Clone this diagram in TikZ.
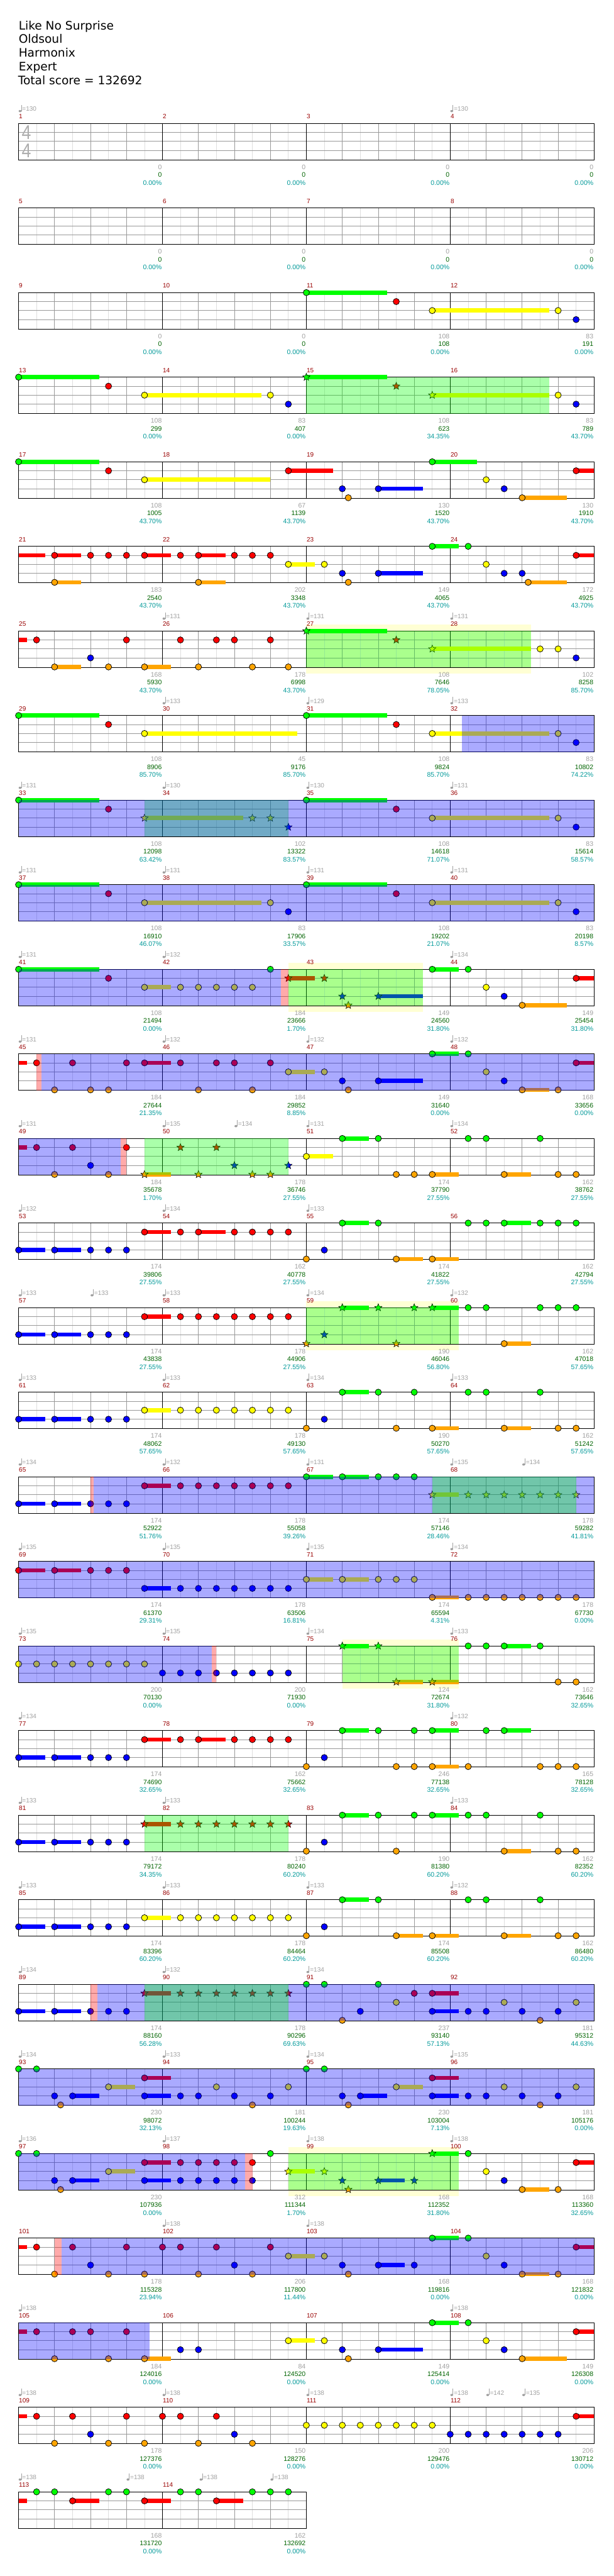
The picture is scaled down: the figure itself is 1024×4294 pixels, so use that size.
\documentclass[tikz,border=0pt]{standalone}
\usepackage{fontspec}
\setmainfont{Liberation Sans}
\newfontfamily\hdfont{DejaVu Sans}
\usetikzlibrary{shapes.geometric}
\definecolor{mred}{RGB}{153,0,0}
\definecolor{tgray}{RGB}{160,160,160}
\definecolor{tgreen}{RGB}{0,100,0}
\definecolor{tteal}{RGB}{0,153,153}
\definecolor{gline}{RGB}{153,153,153}
\definecolor{lline}{RGB}{222,222,222}
\definecolor{L0}{RGB}{0,255,0}
\definecolor{L1}{RGB}{255,0,0}
\definecolor{L2}{RGB}{255,255,0}
\definecolor{L3}{RGB}{0,0,255}
\definecolor{L4}{RGB}{255,165,0}
\newcounter{nd}
\tikzset{
 notec/.style={draw=black,line width=0.8pt},
 starn/.style={star,star points=5,star point ratio=2.3,minimum size=13pt,inner sep=0pt,draw=black,line width=0.6pt},
 mlab/.style={font=\fontsize{10.5}{10.5}\selectfont,text=mred,anchor=base west,inner sep=0pt},
 numg/.style={font=\fontsize{11}{11}\selectfont,text=tgray,anchor=base east,inner sep=0pt},
 numn/.style={font=\fontsize{11}{11}\selectfont,text=tgreen,anchor=base east,inner sep=0pt},
 nump/.style={font=\fontsize{11}{11}\selectfont,text=tteal,anchor=base east,inner sep=0pt},
 tmpl/.style={font=\fontsize{10.5}{10.5}\selectfont,text=tgray,anchor=base west,inner sep=0pt},
 hdr/.style={font=\hdfont\fontsize{19.5}{19.5}\selectfont,anchor=base west,inner sep=0pt},
}
\newcommand\Rt{0}
\newcommand\NN{\stepcounter{nd}n\arabic{nd}}
\newcommand\SetRow[1]{\pgfmathsetmacro\Rt{205.7+(#1-1)*141}}
\newcommand\Nn[2]{\pgfmathsetmacro\xx{31+60*(#2)}\pgfmathsetmacro\yy{\Rt+15*(#1)}\filldraw[notec,fill=L#1] (\xx,\yy) circle[radius=5.2pt];}
\newcommand\SusBar[3]{\pgfmathsetmacro\xa{31+60*(#2)}\pgfmathsetmacro\xb{31+60*(#3)}\pgfmathsetmacro\yy{\Rt+15*(#1)}\fill[L#1] (\xa,\yy-3.5) rectangle (\xb,\yy+3.5);}
\newcommand\StarN[2]{\pgfmathsetmacro\xx{31+60*(#2)}\pgfmathsetmacro\yy{\Rt+15*(#1)}\stepcounter{nd}\node[starn,fill=L#1] (s\arabic{nd}) at (\xx,\yy) {};}
\newcommand\Sn[3]{\SusBar{#1}{#2}{#3}\Nn{#1}{#2}}
\newcommand\Ss[3]{\SusBar{#1}{#2}{#3}\StarN{#1}{#2}}
\newcommand\Ov[3]{\pgfmathsetmacro\xa{31+60*(#2)}\pgfmathsetmacro\xb{31+60*(#3)}\fill[#1,opacity=0.3333] (\xa,\Rt) rectangle (\xb,\Rt+61);}
\newcommand\OvG[2]{\Ov{L0}{#1}{#2}}
\newcommand\OvB[2]{\Ov{L3}{#1}{#2}}
\newcommand\OvP[2]{\Ov{L1}{#1}{#2}}
\newcommand\OvY[2]{\pgfmathsetmacro\xa{31+60*(#1)}\pgfmathsetmacro\xb{31+60*(#2)}\fill[L2,opacity=0.17] (\xa,\Rt-10.3) rectangle (\xb,\Rt+71.3);}
\newcommand\Row[2]{%
 \pgfmathsetmacro\W{240*#2}%
 \pgfmathtruncatemacro\Nl{#2-1}%
 \foreach \k in {0,...,\Nl}{\foreach \h in {30,90,150,210}{\draw[lline,line width=0.8pt] (31+240*\k+\h,\Rt) -- ++(0,61);}}%
 \foreach \l in {15,30,45}{\draw[gline,line width=1pt] (31,\Rt+\l) -- (31+\W,\Rt+\l);}%
 \foreach \k in {0,...,\Nl}{\foreach \h in {60,120,180}{\draw[gline,line width=0.8pt] (31+240*\k+\h,\Rt) -- ++(0,61);}}%
 \foreach \k in {1,...,\Nl}{\draw[black,line width=0.8pt] (31+240*\k,\Rt) -- ++(0,61);}%
 \draw[black,line width=1.1pt] (31,\Rt) rectangle (31+\W,\Rt+61);%
 \foreach \k in {0,...,\Nl}{\pgfmathtruncatemacro\mn{4*(#1-1)+\k+1}\stepcounter{nd}\node[mlab] (m\arabic{nd}) at (31.5+240*\k,\Rt-7.7) {\mn};}%
}
\newcommand\Nums[4]{\pgfmathsetmacro\xx{31+240*#1-1}%
 \stepcounter{nd}\node[numg] (g\arabic{nd}) at (\xx,\Rt+76.4) {#2};%
 \stepcounter{nd}\node[numn] (c\arabic{nd}) at (\xx,\Rt+89.7) {#3};%
 \stepcounter{nd}\node[nump] (p\arabic{nd}) at (\xx,\Rt+102.7) {#4\%};}
\newcommand\Tmp[2]{\pgfmathsetmacro\xx{31+60*(#1)}%
 \fill[tgray] (\xx+2.5,\Rt-20.5) ellipse[x radius=2.4pt,y radius=1.9pt];%
 \draw[tgray,line width=0.7pt] (\xx+4.6,\Rt-20.5) -- (\xx+4.6,\Rt-31);%
 \stepcounter{nd}\node[tmpl] (t\arabic{nd}) at (\xx+6,\Rt-20.3) {=#2};}
\begin{document}
\begin{tikzpicture}[x=1pt,y=-1pt]
\path[use as bounding box] (0,0) rectangle (1024,4294);
\fill[white] (0,0) rectangle (1024,4294);
\node[hdr] (h1) at (31,49.3) {Like No Surprise};
\node[hdr] (h2) at (31,72.3) {Oldsoul};
\node[hdr] (h3) at (31,95.3) {Harmonix};
\node[hdr] (h4) at (31,118.3) {Expert};
\node[hdr] (h5) at (30,141.3) {Total score = 132692};
% ---- row 1
\SetRow{1}\Row{1}{4}
\node[font=\fontsize{33}{33}\selectfont,text=tgray!85,inner sep=0pt,xscale=0.85] (ts1) at (44,221.3) {4};
\node[font=\fontsize{33}{33}\selectfont,text=tgray!85,inner sep=0pt,xscale=0.85] (ts2) at (44,250.8) {4};
\Tmp{0}{130}\Tmp{12}{130}
\Nums{1}{0}{0}{0.00}\Nums{2}{0}{0}{0.00}\Nums{3}{0}{0}{0.00}\Nums{4}{0}{0}{0.00}
% ---- row 2
\SetRow{2}\Row{2}{4}
\Nums{1}{0}{0}{0.00}\Nums{2}{0}{0}{0.00}\Nums{3}{0}{0}{0.00}\Nums{4}{0}{0}{0.00}
% ---- row 3
\SetRow{3}\Row{3}{4}
\Sn{0}{8}{10.24}\Nn{1}{10.5}\Sn{2}{11.5}{14.75}\Nn{2}{15}\Nn{3}{15.5}
\Nums{1}{0}{0}{0.00}\Nums{2}{0}{0}{0.00}\Nums{3}{108}{108}{0.00}\Nums{4}{83}{191}{0.00}
% ---- row 4
\SetRow{4}\Row{4}{4}
\Sn{0}{0}{2.24}\Nn{1}{2.5}\Sn{2}{3.5}{6.75}\Nn{2}{7}\Nn{3}{7.5}
\Ss{0}{8}{10.24}\StarN{1}{10.5}\Ss{2}{11.5}{14.75}\Nn{2}{15}\Nn{3}{15.5}
\OvG{8}{14.75}
\Nums{1}{108}{299}{0.00}\Nums{2}{83}{407}{0.00}\Nums{3}{108}{623}{34.35}\Nums{4}{83}{789}{43.70}
% ---- row 5
\SetRow{5}\Row{5}{4}
\Sn{0}{0}{2.24}\Nn{1}{2.5}\Sn{2}{3.5}{7}\Sn{1}{7.5}{8.74}\Nn{3}{9}\Nn{4}{9.167}\Sn{3}{10}{11.24}
\Sn{0}{11.5}{12.75}\Nn{2}{13}\Nn{3}{13.5}\Sn{4}{14}{15.25}\Sn{1}{15.5}{16}
\Nums{1}{108}{1005}{43.70}\Nums{2}{67}{1139}{43.70}\Nums{3}{130}{1520}{43.70}\Nums{4}{130}{1910}{43.70}
% ---- row 6
\SetRow{6}\Row{6}{4}
\SusBar{1}{0}{0.74}\Sn{1}{1}{1.74}\Sn{4}{1}{1.74}\Nn{1}{2}\Nn{1}{2.5}\Nn{1}{3}\Sn{1}{3.5}{4.24}\Nn{1}{4.5}
\Sn{1}{5}{5.75}\Sn{4}{5}{5.75}\Nn{1}{6}\Nn{1}{6.5}\Nn{1}{7}\Sn{2}{7.5}{8.24}\Nn{2}{8.5}\Nn{3}{9}\Nn{4}{9.167}
\Sn{3}{10}{11.24}\Sn{0}{11.5}{12.24}\Nn{0}{12.5}\Nn{2}{13}\Nn{3}{13.5}\Nn{3}{14}\Sn{4}{14.167}{15.25}\Sn{1}{15.5}{16}
\Nums{1}{183}{2540}{43.70}\Nums{2}{202}{3348}{43.70}\Nums{3}{149}{4065}{43.70}\Nums{4}{172}{4925}{43.70}
% ---- row 7
\SetRow{7}\OvY{8}{14.25}\Row{7}{4}
\Tmp{4}{131}\Tmp{8}{131}\Tmp{12}{131}
\SusBar{1}{0}{0.24}\Nn{1}{0.5}\Sn{4}{1}{1.74}\Nn{3}{2}\Nn{4}{2.5}\Nn{1}{3}\Sn{4}{3.5}{4.24}\Nn{1}{4.5}\Nn{4}{5}
\Nn{1}{5.5}\Nn{1}{6}\Nn{4}{6.5}\Nn{1}{7}\Nn{4}{7.5}
\Ss{0}{8}{10.24}\StarN{1}{10.5}\Ss{2}{11.5}{14.25}\Nn{2}{14.5}\Nn{2}{15}\Nn{3}{15.5}
\OvG{8}{14.25}
\Nums{1}{168}{5930}{43.70}\Nums{2}{178}{6998}{43.70}\Nums{3}{108}{7646}{78.05}\Nums{4}{102}{8258}{85.70}
% ---- row 8
\SetRow{8}\Row{8}{4}
\Tmp{4}{133}\Tmp{8}{129}\Tmp{12}{133}
\Sn{0}{0}{2.24}\Nn{1}{2.5}\Sn{2}{3.5}{7.74}\Sn{0}{8}{10.24}\Nn{1}{10.5}\Sn{2}{11.5}{14.75}\Nn{2}{15}\Nn{3}{15.5}
\OvB{12.32}{16}
\Nums{1}{108}{8906}{85.70}\Nums{2}{45}{9176}{85.70}\Nums{3}{108}{9824}{85.70}\Nums{4}{83}{10802}{74.22}
% ---- row 9
\SetRow{9}\Row{9}{4}
\Tmp{0}{131}\Tmp{4}{130}\Tmp{8}{130}\Tmp{12}{131}
\Sn{0}{0}{2.24}\Nn{1}{2.5}\Ss{2}{3.5}{6.25}\StarN{2}{6.5}\StarN{2}{7}\StarN{3}{7.5}
\Sn{0}{8}{10.24}\Nn{1}{10.5}\Sn{2}{11.5}{14.75}\Nn{2}{15}\Nn{3}{15.5}
\OvG{3.5}{7.5}\OvB{0}{16}
\Nums{1}{108}{12098}{63.42}\Nums{2}{102}{13322}{83.57}\Nums{3}{108}{14618}{71.07}\Nums{4}{83}{15614}{58.57}
% ---- row 10
\SetRow{10}\Row{10}{4}
\Tmp{0}{131}\Tmp{4}{131}\Tmp{8}{131}\Tmp{12}{131}
\Sn{0}{0}{2.24}\Nn{1}{2.5}\Sn{2}{3.5}{6.75}\Nn{2}{7}\Nn{3}{7.5}
\Sn{0}{8}{10.24}\Nn{1}{10.5}\Sn{2}{11.5}{14.75}\Nn{2}{15}\Nn{3}{15.5}
\OvB{0}{16}
\Nums{1}{108}{16910}{46.07}\Nums{2}{83}{17906}{33.57}\Nums{3}{108}{19202}{21.07}\Nums{4}{83}{20198}{8.57}
% ---- row 11
\SetRow{11}\OvY{7.5}{11.24}\Row{11}{4}
\Tmp{0}{131}\Tmp{4}{132}\Tmp{12}{134}
\Sn{0}{0}{2.24}\Nn{1}{2.5}\Sn{2}{3.5}{4.24}\foreach \b in {4.5,5,5.5,6,6.5}{\Nn{2}{\b}}\Nn{0}{7}
\Ss{1}{7.5}{8.24}\StarN{1}{8.5}\StarN{3}{9}\StarN{4}{9.167}\Ss{3}{10}{11.24}
\Sn{0}{11.5}{12.24}\Nn{0}{12.5}\Nn{2}{13}\Nn{3}{13.5}\Sn{4}{14}{15.25}\Sn{1}{15.5}{16}
\OvB{0}{7.3}\OvP{7.3}{7.5}\OvG{7.5}{11.24}
\Nums{1}{108}{21494}{0.00}\Nums{2}{184}{23666}{1.70}\Nums{3}{149}{24560}{31.80}\Nums{4}{149}{25454}{31.80}
% ---- row 12
\SetRow{12}\Row{12}{4}
\Tmp{0}{131}\Tmp{4}{132}\Tmp{8}{132}\Tmp{12}{132}
\SusBar{1}{0}{0.24}\Nn{1}{0.5}\Nn{4}{1}\Nn{1}{1.5}\Nn{4}{2}\Nn{4}{2.5}\Nn{1}{3}\Sn{1}{3.5}{4.24}\Nn{1}{4.5}
\Nn{4}{5}\Nn{1}{5.5}\Nn{1}{6}\Nn{4}{6.5}\Nn{1}{7}\Sn{2}{7.5}{8.24}\Nn{2}{8.5}\Nn{3}{9}\Nn{4}{9.167}
\Sn{3}{10}{11.24}\Sn{0}{11.5}{12.24}\Nn{0}{12.5}\Nn{2}{13}\Nn{3}{13.5}\Sn{4}{14}{14.75}\Nn{4}{15}\Sn{1}{15.5}{16}
\OvP{0.49}{0.64}\OvB{0.64}{16}
\Nums{1}{184}{27644}{21.35}\Nums{2}{184}{29852}{8.85}\Nums{3}{149}{31640}{0.00}\Nums{4}{168}{33656}{0.00}
% ---- row 13
\SetRow{13}\Row{13}{4}
\Tmp{0}{131}\Tmp{4}{135}\Tmp{6}{134}\Tmp{8}{131}\Tmp{12}{134}
\SusBar{1}{0}{0.24}\Nn{1}{0.5}\Nn{4}{1}\Nn{1}{1.5}\Nn{3}{2}\Nn{4}{2.5}\Nn{1}{3}
\Ss{4}{3.5}{4.24}\StarN{1}{4.5}\StarN{4}{5}\StarN{1}{5.5}\StarN{3}{6}\StarN{4}{6.5}\StarN{4}{7}\StarN{3}{7.5}
\Sn{2}{8}{8.74}\Sn{0}{9}{9.74}\Nn{0}{10}\Nn{4}{10.5}\Nn{4}{11}\Sn{4}{11.5}{12.24}\Nn{0}{12.5}\Nn{0}{13}
\Sn{4}{13.5}{14.25}\Nn{0}{14.5}\Nn{4}{15}\Nn{4}{15.5}
\OvB{0}{2.83}\OvP{2.83}{3}\OvG{3.5}{7.5}
\Nums{1}{184}{35678}{1.70}\Nums{2}{178}{36746}{27.55}\Nums{3}{174}{37790}{27.55}\Nums{4}{162}{38762}{27.55}
% ---- row 14
\SetRow{14}\Row{14}{4}
\Tmp{0}{132}\Tmp{4}{134}\Tmp{8}{133}
\Sn{3}{0}{0.74}\Sn{3}{1}{1.74}\Nn{3}{2}\Nn{3}{2.5}\Nn{3}{3}
\Sn{1}{3.5}{4.24}\Nn{1}{4.5}\Sn{1}{5}{5.75}\Nn{1}{6}\Nn{1}{6.5}\Nn{1}{7}\Nn{1}{7.5}
\Nn{4}{8}\Nn{3}{8.5}\Sn{0}{9}{9.74}\Nn{0}{10}\Sn{4}{10.5}{11.24}\Sn{4}{11.5}{12.24}\Nn{0}{12.5}\Nn{0}{13}
\Sn{0}{13.5}{14.25}\Nn{0}{14.5}\Nn{0}{15}\Nn{0}{15.5}
\Nums{1}{174}{39806}{27.55}\Nums{2}{162}{40778}{27.55}\Nums{3}{174}{41822}{27.55}\Nums{4}{162}{42794}{27.55}
% ---- row 15
\SetRow{15}\OvY{8}{12.24}\Row{15}{4}
\Tmp{0}{133}\Tmp{2}{133}\Tmp{4}{133}\Tmp{8}{134}\Tmp{12}{132}
\Sn{3}{0}{0.74}\Sn{3}{1}{1.74}\Nn{3}{2}\Nn{3}{2.5}\Nn{3}{3}
\Sn{1}{3.5}{4.24}\foreach \b in {4.5,5,5.5,6,6.5,7,7.5}{\Nn{1}{\b}}
\StarN{4}{8}\StarN{3}{8.5}\Ss{0}{9}{9.74}\StarN{0}{10}\StarN{4}{10.5}\StarN{0}{11}\Ss{0}{11.5}{12.24}
\Nn{0}{12.5}\Nn{0}{13}\Sn{4}{13.5}{14.25}\Nn{0}{14.5}\Nn{0}{15}\Nn{0}{15.5}
\OvG{8}{12.24}
\Nums{1}{174}{43838}{27.55}\Nums{2}{178}{44906}{27.55}\Nums{3}{190}{46046}{56.80}\Nums{4}{162}{47018}{57.65}
% ---- row 16
\SetRow{16}\Row{16}{4}
\Tmp{0}{133}\Tmp{4}{133}\Tmp{8}{134}\Tmp{12}{133}
\Sn{3}{0}{0.74}\Sn{3}{1}{1.74}\Nn{3}{2}\Nn{3}{2.5}\Nn{3}{3}
\Sn{2}{3.5}{4.24}\foreach \b in {4.5,5,5.5,6,6.5,7,7.5}{\Nn{2}{\b}}
\Nn{4}{8}\Nn{3}{8.5}\Sn{0}{9}{9.74}\Nn{0}{10}\Nn{4}{10.5}\Nn{0}{11}\Sn{4}{11.5}{12.24}\Nn{0}{12.5}\Nn{0}{13}
\Sn{4}{13.5}{14.25}\Nn{0}{14.5}\Nn{4}{15}\Nn{4}{15.5}
\Nums{1}{174}{48062}{57.65}\Nums{2}{178}{49130}{57.65}\Nums{3}{190}{50270}{57.65}\Nums{4}{162}{51242}{57.65}
% ---- row 17
\SetRow{17}\Row{17}{4}
\Tmp{0}{134}\Tmp{4}{132}\Tmp{8}{131}\Tmp{12}{135}\Tmp{14}{134}
\Sn{3}{0}{0.74}\Sn{3}{1}{1.74}\Nn{3}{2}\Nn{3}{2.5}\Nn{3}{3}
\Sn{1}{3.5}{4.24}\foreach \b in {4.5,5,5.5,6,6.5,7,7.5}{\Nn{1}{\b}}
\Sn{0}{8}{8.74}\Sn{0}{9}{9.74}\Nn{0}{10}\Nn{0}{10.5}\Nn{0}{11}
\Ss{2}{11.5}{12.24}\foreach \b in {12.5,13,13.5,14,14.5,15,15.5}{\StarN{2}{\b}}
\OvP{2}{2.09}\OvB{2.09}{16}\OvG{11.5}{15.5}
\Nums{1}{174}{52922}{51.76}\Nums{2}{178}{55058}{39.26}\Nums{3}{174}{57146}{28.46}\Nums{4}{178}{59282}{41.81}
% ---- row 18
\SetRow{18}\Row{18}{4}
\Tmp{0}{135}\Tmp{4}{135}\Tmp{8}{135}\Tmp{12}{134}
\Sn{1}{0}{0.74}\Sn{1}{1}{1.74}\Nn{1}{2}\Nn{1}{2.5}\Nn{1}{3}
\Sn{3}{3.5}{4.24}\foreach \b in {4.5,5,5.5,6,6.5,7,7.5}{\Nn{3}{\b}}
\Sn{2}{8}{8.74}\Sn{2}{9}{9.74}\Nn{2}{10}\Nn{2}{10.5}\Nn{2}{11}
\Sn{4}{11.5}{12.24}\foreach \b in {12.5,13,13.5,14,14.5,15,15.5}{\Nn{4}{\b}}
\OvB{0}{16}
\Nums{1}{174}{61370}{29.31}\Nums{2}{178}{63506}{16.81}\Nums{3}{174}{65594}{4.31}\Nums{4}{178}{67730}{0.00}
% ---- row 19
\SetRow{19}\OvY{9}{12.24}\Row{19}{4}
\Tmp{0}{135}\Tmp{4}{135}\Tmp{8}{134}\Tmp{12}{133}
\foreach \b in {0,0.5,1,1.5,2,2.5,3,3.5}{\Nn{2}{\b}}
\foreach \b in {4,4.5,5,5.5,6,6.5,7,7.5}{\Nn{3}{\b}}
\Ss{0}{9}{9.74}\StarN{0}{10}\Ss{4}{10.5}{11.24}\Ss{4}{11.5}{12.24}
\Nn{0}{12.5}\Nn{0}{13}\Sn{0}{13.5}{14.25}\Nn{0}{14.5}\Nn{4}{15}\Nn{4}{15.5}
\OvB{0}{5.37}\OvP{5.37}{5.5}\OvG{9}{12.24}
\Nums{1}{200}{70130}{0.00}\Nums{2}{200}{71930}{0.00}\Nums{3}{124}{72674}{31.80}\Nums{4}{162}{73646}{32.65}
% ---- row 20
\SetRow{20}\Row{20}{4}
\Tmp{0}{134}\Tmp{12}{132}
\Sn{3}{0}{0.74}\Sn{3}{1}{1.74}\Nn{3}{2}\Nn{3}{2.5}\Nn{3}{3}
\Sn{1}{3.5}{4.24}\Nn{1}{4.5}\Sn{1}{5}{5.75}\Nn{1}{6}\Nn{1}{6.5}\Nn{1}{7}\Nn{1}{7.5}
\Nn{4}{8}\Nn{3}{8.5}\Sn{0}{9}{9.74}\Nn{0}{10}\Nn{4}{10.5}\Nn{0}{11}\Nn{4}{11}
\Sn{0}{11.5}{12.24}\Sn{4}{11.5}{12.24}\Nn{4}{12.5}\Nn{0}{13}\Sn{0}{13.5}{14.25}\Nn{4}{14.5}\Nn{4}{15}\Nn{4}{15.5}
\Nums{1}{174}{74690}{32.65}\Nums{2}{162}{75662}{32.65}\Nums{3}{246}{77138}{32.65}\Nums{4}{165}{78128}{32.65}
% ---- row 21
\SetRow{21}\Row{21}{4}
\Tmp{0}{133}\Tmp{4}{133}\Tmp{12}{133}
\Sn{3}{0}{0.74}\Sn{3}{1}{1.74}\Nn{3}{2}\Nn{3}{2.5}\Nn{3}{3}
\Ss{1}{3.5}{4.24}\foreach \b in {4.5,5,5.5,6,6.5,7,7.5}{\StarN{1}{\b}}
\Nn{4}{8}\Nn{3}{8.5}\Sn{0}{9}{9.74}\Nn{0}{10}\Nn{4}{10.5}\Nn{0}{11}\Sn{0}{11.5}{12.24}\Nn{0}{12.5}\Nn{0}{13}
\Sn{4}{13.5}{14.25}\Nn{0}{14.5}\Nn{4}{15}\Nn{4}{15.5}
\OvG{3.5}{7.5}
\Nums{1}{174}{79172}{34.35}\Nums{2}{178}{80240}{60.20}\Nums{3}{190}{81380}{60.20}\Nums{4}{162}{82352}{60.20}
% ---- row 22
\SetRow{22}\Row{22}{4}
\Tmp{0}{133}\Tmp{4}{133}\Tmp{8}{133}\Tmp{12}{132}
\Sn{3}{0}{0.74}\Sn{3}{1}{1.74}\Nn{3}{2}\Nn{3}{2.5}\Nn{3}{3}
\Sn{2}{3.5}{4.24}\foreach \b in {4.5,5,5.5,6,6.5,7,7.5}{\Nn{2}{\b}}
\Nn{4}{8}\Nn{3}{8.5}\Sn{0}{9}{9.74}\Nn{0}{10}\Sn{4}{10.5}{11.24}\Sn{4}{11.5}{12.24}\Nn{0}{12.5}\Nn{0}{13}
\Sn{4}{13.5}{14.25}\Nn{0}{14.5}\Nn{4}{15}\Nn{4}{15.5}
\Nums{1}{174}{83396}{60.20}\Nums{2}{178}{84464}{60.20}\Nums{3}{174}{85508}{60.20}\Nums{4}{162}{86480}{60.20}
% ---- row 23
\SetRow{23}\Row{23}{4}
\Tmp{0}{134}\Tmp{4}{132}\Tmp{8}{134}
\Sn{3}{0}{0.74}\Sn{3}{1}{1.74}\Nn{3}{2}\Nn{3}{2.5}\Nn{3}{3}
\Ss{1}{3.5}{4.24}\foreach \b in {4.5,5,5.5,6,6.5,7,7.5}{\StarN{1}{\b}}
\Nn{0}{8}\Nn{0}{8.5}\Nn{4}{9}\Nn{3}{9.5}\Nn{0}{10}\Nn{2}{10.5}\Nn{1}{11}\Sn{1}{11.5}{12.24}\Sn{3}{11.5}{12.24}
\Nn{3}{12.5}\Nn{3}{13}\Nn{2}{13.5}\Nn{3}{14}\Nn{4}{14.5}\Nn{3}{15}\Nn{2}{15.5}
\OvP{2}{2.2}\OvB{2.2}{16}\OvG{3.5}{7.5}
\Nums{1}{174}{88160}{56.28}\Nums{2}{178}{90296}{69.63}\Nums{3}{237}{93140}{57.13}\Nums{4}{181}{95312}{44.63}
% ---- row 24
\SetRow{24}\Row{24}{4}
\Tmp{0}{134}\Tmp{4}{133}\Tmp{8}{134}\Tmp{12}{135}
\Nn{0}{0}\Nn{0}{0.5}\Nn{3}{1}\Nn{4}{1.167}\Sn{3}{1.5}{2.24}\Sn{2}{2.5}{3.24}\Sn{1}{3.5}{4.24}\Sn{3}{3.5}{4.24}
\Nn{3}{4.5}\Nn{3}{5}\Nn{2}{5.5}\Nn{3}{6}\Nn{4}{6.5}\Nn{3}{7}\Nn{2}{7.5}
\Nn{0}{8}\Nn{0}{8.5}\Nn{3}{9}\Nn{4}{9.167}\Sn{3}{9.5}{10.24}\Sn{2}{10.5}{11.24}\Sn{1}{11.5}{12.24}\Sn{3}{11.5}{12.24}
\Nn{3}{12.5}\Nn{3}{13}\Nn{2}{13.5}\Nn{3}{14}\Nn{4}{14.5}\Nn{3}{15}\Nn{2}{15.5}
\OvB{0}{16}
\Nums{1}{230}{98072}{32.13}\Nums{2}{181}{100244}{19.63}\Nums{3}{230}{103004}{7.13}\Nums{4}{181}{105176}{0.00}
% ---- row 25
\SetRow{25}\OvY{7.5}{12.24}\Row{25}{4}
\Tmp{0}{136}\Tmp{4}{137}\Tmp{8}{138}\Tmp{12}{138}
\Nn{0}{0}\Nn{0}{0.5}\Nn{3}{1}\Nn{4}{1.167}\Sn{3}{1.5}{2.24}\Sn{2}{2.5}{3.24}\Sn{1}{3.5}{4.24}\Sn{3}{3.5}{4.24}
\foreach \b in {4.5,5,5.5,6,6.5}{\Nn{1}{\b}\Nn{3}{\b}}\Nn{0}{7}
\Ss{2}{7.5}{8.24}\StarN{2}{8.5}\StarN{3}{9}\StarN{4}{9.167}\Ss{3}{10}{10.74}\StarN{3}{11}\Ss{0}{11.5}{12.24}
\Nn{0}{12.5}\Nn{2}{13}\Nn{3}{13.5}\Sn{4}{14}{14.75}\Nn{4}{15}\Sn{1}{15.5}{16}
\OvB{0}{6.29}\OvP{6.29}{6.5}\OvG{7.5}{12.24}
\Nums{1}{230}{107936}{0.00}\Nums{2}{312}{111344}{1.70}\Nums{3}{168}{112352}{31.80}\Nums{4}{168}{113360}{32.65}
% ---- row 26
\SetRow{26}\Row{26}{4}
\Tmp{4}{138}\Tmp{8}{138}
\SusBar{1}{0}{0.24}\foreach \b in {0.5,1.5,3,4,4.5,5.5,7}{\Nn{1}{\b}}
\foreach \b in {1,2.5,3.5,5,6.5,9.167}{\Nn{4}{\b}}
\Nn{3}{2}\Nn{3}{6}\Sn{2}{7.5}{8.24}\Nn{2}{8.5}\Nn{3}{9}\Sn{3}{10}{10.74}\Nn{3}{11}
\Sn{0}{11.5}{12.24}\Nn{0}{12.5}\Nn{2}{13}\Nn{3}{13.5}\Sn{4}{14}{14.75}\Nn{4}{15}\Sn{1}{15.5}{16}
\OvP{1}{1.19}\OvB{1.19}{16}
\Nums{1}{178}{115328}{23.94}\Nums{2}{206}{117800}{11.44}\Nums{3}{168}{119816}{0.00}\Nums{4}{168}{121832}{0.00}
% ---- row 27
\SetRow{27}\Row{27}{4}
\Tmp{0}{138}\Tmp{12}{138}
\SusBar{1}{0}{0.24}\Nn{1}{0.5}\Nn{4}{1}\Nn{1}{1.5}\Nn{1}{2}\Nn{4}{2.5}\Nn{1}{3}\Sn{4}{3.5}{4.24}\Nn{3}{4.5}\Nn{3}{5}
\Sn{2}{7.5}{8.24}\Nn{2}{8.5}\Nn{3}{9}\Nn{4}{9.167}\Sn{3}{10}{11.24}\Sn{0}{11.5}{12.24}\Nn{0}{12.5}\Nn{2}{13}\Nn{3}{13.5}
\Sn{4}{14}{15.25}\Sn{1}{15.5}{16}
\OvB{0}{3.65}
\Nums{1}{184}{124016}{0.00}\Nums{2}{84}{124520}{0.00}\Nums{3}{149}{125414}{0.00}\Nums{4}{149}{126308}{0.00}
% ---- row 28
\SetRow{28}\Row{28}{4}
\Tmp{0}{138}\Tmp{4}{138}\Tmp{8}{138}\Tmp{12}{138}\Tmp{13}{142}\Tmp{14}{135}
\SusBar{1}{0}{0.24}\foreach \b in {0.5,1.5,3,4,4.5,5.5}{\Nn{1}{\b}}
\foreach \b in {1,2.5,3.5,5,6.5}{\Nn{4}{\b}}\Nn{3}{2}\Nn{3}{6}
\foreach \b in {8,8.5,9,9.5,10,10.5,11,11.5}{\Nn{2}{\b}}
\foreach \b in {12,12.5,13,13.5,14,14.5,15}{\Nn{3}{\b}}\Sn{1}{15.5}{16}
\Nums{1}{178}{127376}{0.00}\Nums{2}{150}{128276}{0.00}\Nums{3}{200}{129476}{0.00}\Nums{4}{206}{130712}{0.00}
% ---- row 29
\SetRow{29}\Row{29}{2}
\Tmp{0}{138}\Tmp{3}{138}\Tmp{5.03}{138}\Tmp{7}{138}
\SusBar{1}{0}{0.24}\Nn{0}{0.5}\Nn{0}{1}\Sn{1}{1.5}{2.24}\Nn{0}{2.5}\Nn{0}{3}\Sn{1}{3.5}{4.24}\Nn{0}{4.5}\Nn{0}{5}
\Sn{1}{5.5}{6.24}\Nn{0}{6.5}\Nn{0}{7}\Nn{0}{7.5}
\Nums{1}{168}{131720}{0.00}\Nums{2}{162}{132692}{0.00}
\end{tikzpicture}
\end{document}
